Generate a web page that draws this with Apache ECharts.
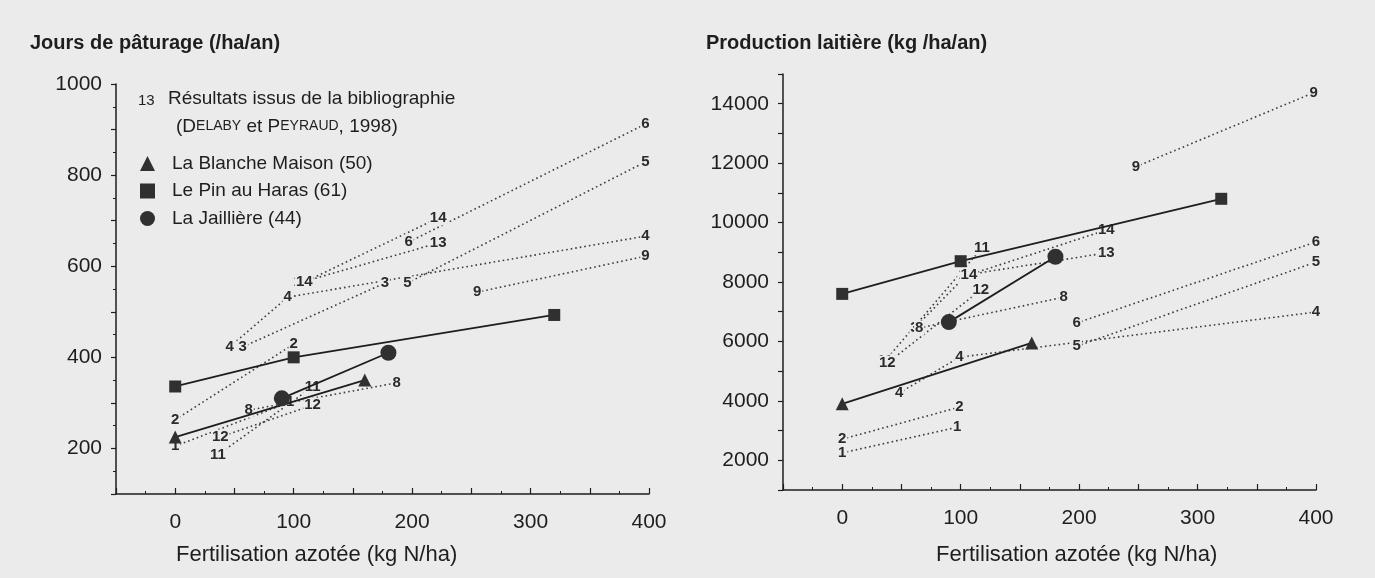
<!DOCTYPE html>
<html><head><meta charset="utf-8">
<script src="https://cdn.jsdelivr.net/npm/echarts@6/dist/echarts.min.js"></script>
<style>html,body{margin:0;padding:0;background:#ebebeb}#c{width:1375px;height:578px}</style>
</head><body><div id="c"></div>
<script>
// ---------- DATA ----------
const siteNames = ['La Blanche Maison (50)', 'Le Pin au Haras (61)', 'La Jaillière (44)'];
// Jours de pâturage (/ha/an) vs N (kg N/ha)
const patBlanche = [[0, 225], [160, 350]];
const patPin = [[0, 336], [100, 400], [320, 493]];
const patJaillere = [[90, 310], [180, 410]];
// Production laitière (kg/ha/an) vs N
const milkBlanche = [[0, 3900], [160, 5950]];
const milkPin = [[0, 7600], [100, 8700], [320, 10800]];
const milkJaillere = [[90, 6650], [180, 8850]];
// Bibliography studies (Delaby et Peyraud, 1998)
const studyIds = ['1', '2', '3', '4', '5', '6', '8', '9', '11', '12', '13', '14'];
const patStudies = [
  [[0, 205], [97, 302]],
  [[0, 263], [100, 429]],
  [[57, 423], [177, 563]],
  [[46, 423], [95, 532], [397, 666]],
  [[196, 563], [397, 829]],
  [[197, 653], [397, 912]],
  [[62, 284], [187, 344]],
  [[255, 543], [397, 622]],
  [[36, 186], [116, 335]],
  [[38, 225], [116, 295]],
  [[107, 565], [222, 651]],
  [[109, 565], [222, 706]]
];
const milkStudies = [
  [[0, 2250], [97, 3110]],
  [[0, 2710], [99, 3790]],
  [[61, 6450], [105, 8240]],
  [[48, 4260], [99, 5470], [400, 6990]],
  [[198, 5840], [400, 8670]],
  [[198, 6620], [400, 9350]],
  [[65, 6450], [187, 7490]],
  [[248, 11880], [398, 14370]],
  [[36, 5340], [118, 9150]],
  [[38, 5270], [117, 7730]],
  [[105, 8240], [223, 8980]],
  [[107, 8240], [223, 9750]]
];
const xTickLabels = [0, 100, 200, 300, 400];
const patTickLabels = [200, 400, 600, 800, 1000];
const milkTickLabels = [2000, 4000, 6000, 8000, 10000, 12000, 14000];

// ---------- STYLE ----------
const BG = '#ebebeb';
const INK = '#1e1e1e';
const FONT = '"Liberation Sans", Arial, Helvetica, sans-serif';
const siteIcons = ['triangle', 'rect', 'circle'];
const siteSizes = [13, 12, 16];
const hiddenLabels = { milk: { '3': [1] } };

const chart = echarts.init(document.getElementById('c'), null, { renderer: 'canvas' });

function xAxis(grid) {
  return {
    gridIndex: grid, type: 'value', min: -50, max: 400, interval: 50,
    axisLine: { onZero: false, lineStyle: { color: INK, width: 1.5 } },
    axisTick: { inside: true, length: 6, lineStyle: { color: INK, width: 1.2 } },
    minorTick: { show: true, splitNumber: 2, length: 3, lineStyle: { color: INK, width: 1 } },
    splitLine: { show: false },
    axisLabel: { fontSize: 21, margin: 18, color: INK, fontFamily: FONT,
      formatter: v => xTickLabels.includes(v) ? String(v) : '' }
  };
}
function yAxis(grid, min, max, interval, labels) {
  return {
    gridIndex: grid, type: 'value', min: min, max: max, interval: interval,
    axisLine: { show: true, onZero: false, lineStyle: { color: INK, width: 1.5 } },
    axisTick: { show: true, length: 5, lineStyle: { color: INK, width: 1.2 } },
    minorTick: { show: grid === 0, splitNumber: 2, length: 3, lineStyle: { color: INK, width: 1 } },
    splitLine: { show: false },
    axisLabel: { fontSize: 21, margin: 14, color: INK, fontFamily: FONT,
      formatter: v => labels.includes(v) ? String(v) : '' }
  };
}

const series = [];
function addStudies(key, grid, studies) {
  studies.forEach((pts, i) => {
    const id = studyIds[i];
    const hid = (hiddenLabels[key] && hiddenLabels[key][id]) || [];
    series.push({
      name: key + '-' + id, type: 'line', xAxisIndex: grid, yAxisIndex: grid,
      z: 2, symbol: 'circle', symbolSize: 1, showSymbol: true, silent: true,
      itemStyle: { color: 'rgba(0,0,0,0)' },
      lineStyle: { color: '#3c3c3c', width: 1.6, type: [1.6, 3] },
      data: pts.map((p, j) => ({
        value: p,
        label: {
          show: !hid.includes(j), position: 'inside', formatter: id,
          fontSize: 15, fontWeight: 'bold', color: '#2a2a2a', fontFamily: FONT,
          backgroundColor: BG, padding: [0, 1]
        }
      }))
    });
  });
}
addStudies('pat', 0, patStudies);
addStudies('milk', 1, milkStudies);

const patSites = [patBlanche, patPin, patJaillere];
const milkSites = [milkBlanche, milkPin, milkJaillere];
[patSites, milkSites].forEach((sites, grid) => {
  sites.forEach((pts, i) => {
    series.push({
      name: siteNames[i], type: 'line', xAxisIndex: grid, yAxisIndex: grid, z: 5,
      symbol: siteIcons[i], symbolSize: siteSizes[i], showSymbol: true,
      itemStyle: { color: '#303030' },
      lineStyle: { color: INK, width: 1.8 },
      data: pts
    });
  });
});

chart.setOption({
  backgroundColor: BG,
  animation: false,
  textStyle: { fontFamily: FONT },
  grid: [
    { left: 116, right: 726, top: 84, bottom: 84 },
    { left: 783, right: 59, top: 74, bottom: 88 }
  ],
  xAxis: [xAxis(0), xAxis(1)],
  yAxis: [yAxis(0, 100, 1000, 100, patTickLabels), yAxis(1, 1000, 15000, 1000, milkTickLabels)],
  legend: {
    data: siteNames.map((n, i) => ({ name: n, icon: siteIcons[i] })),
    orient: 'vertical', left: 135, top: 149, itemWidth: 15, itemHeight: 15, itemGap: 8.5,
    selectedMode: false,
    textStyle: { fontSize: 19, lineHeight: 19, color: INK, fontFamily: FONT, padding: [0, 0, 0, 12] }
  },
  graphic: [
    { type: 'text', left: 30, top: 33, style: { text: 'Jours de pâturage (/ha/an)', fontSize: 20, fontWeight: 'bold', fill: INK, fontFamily: FONT } },
    { type: 'text', left: 706, top: 33, style: { text: 'Production laitière (kg /ha/an)', fontSize: 20, fontWeight: 'bold', fill: INK, fontFamily: FONT } },
    { type: 'text', left: 176, top: 544, style: { text: 'Fertilisation azotée (kg N/ha)', fontSize: 22, fill: INK, fontFamily: FONT } },
    { type: 'text', left: 936, top: 544, style: { text: 'Fertilisation azotée (kg N/ha)', fontSize: 22, fill: INK, fontFamily: FONT } },
    { type: 'text', left: 138, top: 93, style: { text: '13', fontSize: 15, fill: INK, fontFamily: FONT } },
    { type: 'text', left: 168, top: 89, style: { text: 'Résultats issus de la bibliographie', fontSize: 19, fill: INK, fontFamily: FONT } },
    { type: 'text', left: 176, top: 117, style: {
        text: '(D{s|ELABY} et P{s|EYRAUD}, 1998)', fontSize: 19, fill: INK, fontFamily: FONT,
        rich: { s: { fontSize: 14, fill: INK, fontFamily: FONT } } } }
  ],
  series: series
});
</script></body></html>
